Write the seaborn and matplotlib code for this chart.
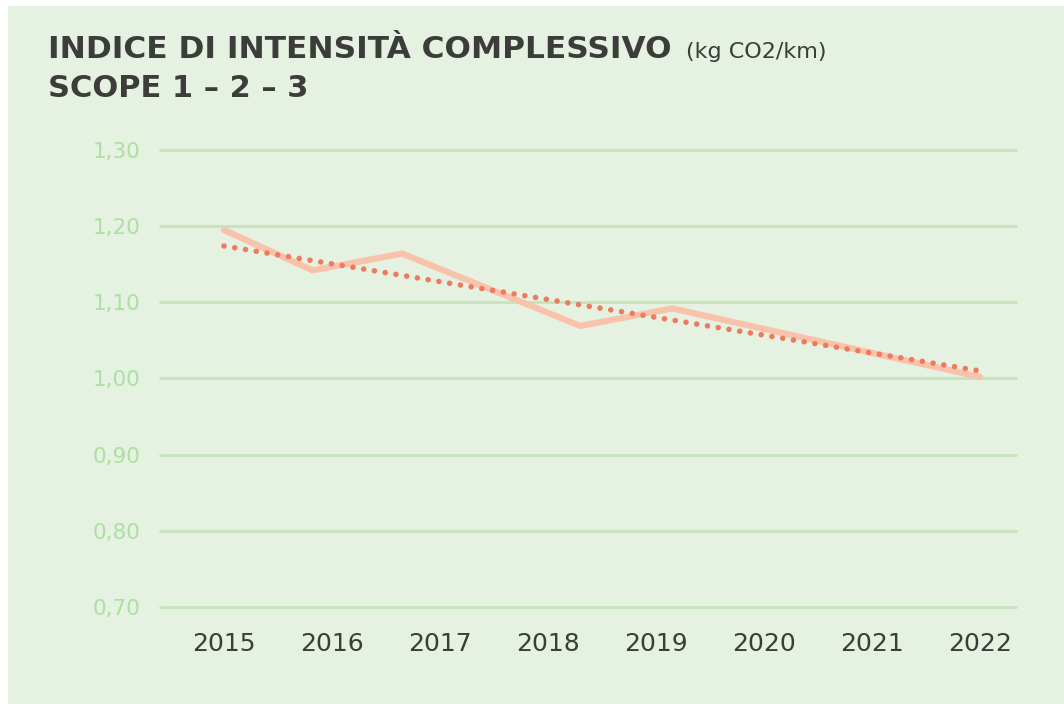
import matplotlib
matplotlib.use("Agg")

import matplotlib.pyplot as plt
import seaborn as sns
import pandas as pd
from matplotlib.patches import Rectangle
from matplotlib.ticker import FuncFormatter

# -------------------------------------------------------
# DATA
# -------------------------------------------------------
years = [2015, 2016, 2017, 2018, 2019, 2020, 2021, 2022]

# vertices of the solid line (x in year units)
line_x = [2015.0, 2015.82, 2016.65, 2018.3, 2019.15, 2022.0]
line_y = [1.195, 1.142, 1.164, 1.069, 1.092, 1.002]

# linear trend (dotted)
trend_x = [2015.0, 2022.0]
trend_y = [1.174, 1.010]

y_ticks = [0.70, 0.80, 0.90, 1.00, 1.10, 1.20, 1.30]

title_bold = "INDICE DI INTENSITÀ COMPLESSIVO"
title_unit = "(kg CO2/km)"
title_line2 = "SCOPE 1 – 2 – 3"

# -------------------------------------------------------
# STYLE
# -------------------------------------------------------
panel = "#e5f1e1"
grid_col = "#c6e3bc"
ytick_col = "#ade0a0"
dark = "#3c3c3a"
solid_col = "#f9c3ab"
dot_col = "#ef7b5e"

sns.set_style("white")
plt.rcParams["font.family"] = ["DejaVu Sans"]

fig = plt.figure(figsize=(10.64, 7.04), dpi=100)
fig.patch.set_facecolor("white")
fig.patches.append(Rectangle((8 / 1064, 0), 1 - 8 / 1064, 1 - 6 / 704,
                             transform=fig.transFigure, facecolor=panel,
                             edgecolor="none", zorder=-1))

ax = fig.add_axes([160 / 1064, 1 - 607 / 704, 856 / 1064, 457 / 704])
ax.set_zorder(2)
ax.set_facecolor("none")

df_line = pd.DataFrame({"anno": line_x, "valore": line_y})
df_trend = pd.DataFrame({"anno": trend_x, "valore": trend_y})

sns.lineplot(data=df_line, x="anno", y="valore", ax=ax, color=solid_col,
             linewidth=4.5, solid_joinstyle="miter", zorder=3)
sns.lineplot(data=df_trend, x="anno", y="valore", ax=ax, color=dot_col,
             linewidth=4.0, linestyle=(0, (0.01, 1.95)),
             dash_capstyle="round", zorder=4)

ax.set_xlim(2015 - 64 / 108, 2022 + 36 / 108)
ax.set_ylim(0.70, 1.30)
ax.set_yticks(y_ticks)
ax.set_xticks(years)
ax.yaxis.set_major_formatter(FuncFormatter(lambda v, p: f"{v:.2f}".replace(".", ",")))

ax.grid(axis="y", color=grid_col, linewidth=2)
ax.grid(axis="x", visible=False)
for s in ax.spines.values():
    s.set_visible(False)
for gl in ax.get_ygridlines():
    gl.set_clip_on(False)

ax.tick_params(axis="y", length=0, pad=14, labelsize=15.5, labelcolor=ytick_col)
ax.tick_params(axis="x", length=0, pad=18, labelsize=18, labelcolor=dark)
ax.set_xlabel("")
ax.set_ylabel("")

# titles
t1 = fig.text(48 / 1064, 1 - 58 / 704, title_bold, fontsize=22.5, fontweight="bold",
              color=dark, ha="left", va="baseline")
fig.canvas.draw()
bb = t1.get_window_extent()
fig.text((bb.x1 + 14) / 1064, 1 - 58 / 704, title_unit, fontsize=16,
         color=dark, ha="left", va="baseline")
fig.text(48 / 1064, 1 - 97 / 704, title_line2, fontsize=22, fontweight="bold",
         color=dark, ha="left", va="baseline")

fig.savefig("out.png", dpi=100, facecolor=fig.get_facecolor())
plt.close(fig)
